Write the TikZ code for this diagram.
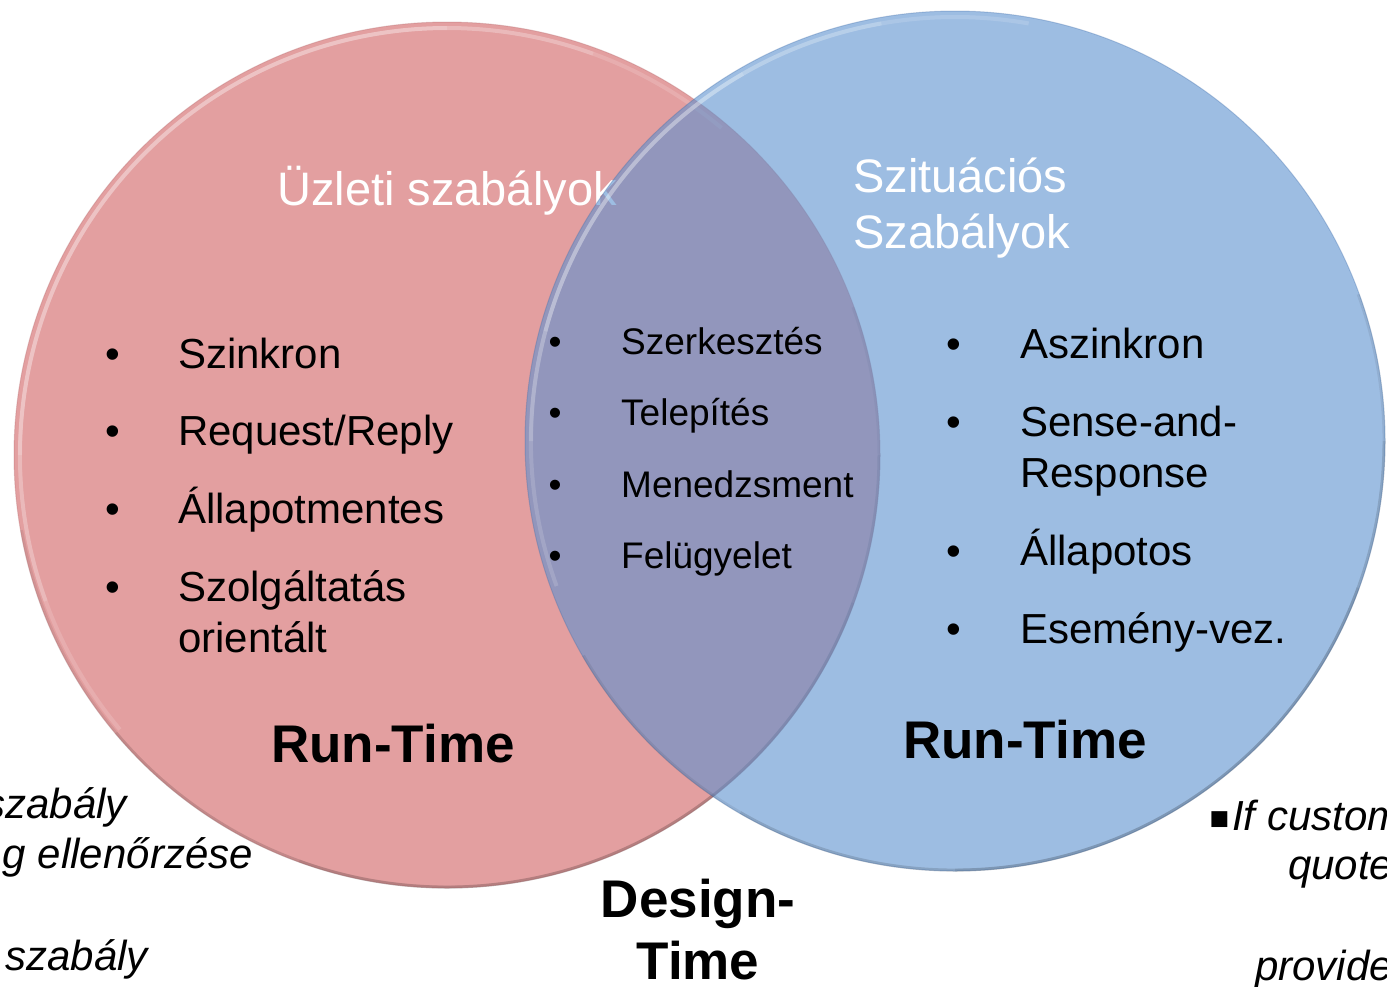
\documentclass[tikz,border=0pt]{standalone}
\usepackage{fontspec}
\setmainfont{Liberation Sans}
\definecolor{bizred}{RGB}{227,159,160}
\definecolor{sitblue}{RGB}{92,145,207}
\definecolor{redrim}{RGB}{185,115,118}
\definecolor{bluerim}{RGB}{60,105,165}

\begin{document}
\begin{tikzpicture}[x=1pt,y=-1pt,
  setdisc/.style={circle, inner sep=0pt, minimum size=#1},
  item/.style={anchor=base west, inner sep=0pt, font=\fontsize{42}{50}\selectfont},
  bul/.style={anchor=base, inner sep=0pt, font=\fontsize{42}{50}\selectfont},
  citem/.style={anchor=base west, inner sep=0pt, font=\fontsize{37}{44}\selectfont},
  cbul/.style={anchor=base, inner sep=0pt, font=\fontsize{37}{44}\selectfont},
  ttl/.style={anchor=base west, inner sep=0pt, text=white, font=\fontsize{47}{56}\selectfont},
  phase/.style={anchor=base, inner sep=0pt, font=\fontsize{53}{63}\selectfont\bfseries},
  side/.style={inner sep=0pt, font=\fontsize{42}{50}\selectfont\itshape},
  glint/.style={draw=white, line width=4pt, draw opacity=0.15},
  shade/.style={draw=black, line width=3pt, draw opacity=0.07},
]
\useasboundingbox (0,0) rectangle (1387,986);
\begin{scope}
\clip (0,0) rectangle (1387,986);

% business rules set
\node[setdisc=866pt, fill=bizred, draw=redrim, draw opacity=0.35, line width=1pt] (bizset) at (447,455) {};
\foreach \a/\b in {90/180,70/200,50/220}
  \draw[glint] (bizset.center) ++(\b:427pt) arc[start angle=\b, end angle=\a, radius=427pt];
\foreach \a/\b in {-170/20,-140/0,-110/-20}
  \draw[shade] (bizset.center) ++(\a:432pt) arc[start angle=\a, end angle=\b, radius=432pt];
\node[ttl] (biztitle) at (277,205) {Üzleti szabályok};

% situational rules set, translucent over the first one
\node[setdisc=860pt, fill=sitblue, fill opacity=0.6, draw=bluerim, draw opacity=0.3, line width=1pt] (sitset) at (955,441) {};
\foreach \a/\b in {80/200,100/180,120/165}
  \draw[glint] (sitset.center) ++(\b:424pt) arc[start angle=\b, end angle=\a, radius=424pt];
\foreach \a/\b in {-150/20,-120/0,-90/-20}
  \draw[shade] (sitset.center) ++(\a:429pt) arc[start angle=\a, end angle=\b, radius=429pt];
\node[ttl] (sittitle1) at (853,192) {Szituációs};
\node[ttl] (sittitle2) at (853,248) {Szabályok};

% left list
\node[bul]  (lb1) at (113,368) {•};
\node[item] (l1)  at (178,368) {Szinkron};
\node[bul]  (lb2) at (113,445) {•};
\node[item] (l2)  at (178,445) {Request/Reply};
\node[bul]  (lb3) at (113,523) {•};
\node[item] (l3)  at (178,523) {Állapotmentes};
\node[bul]  (lb4) at (113,601) {•};
\node[item] (l4a) at (178,601) {Szolgáltatás};
\node[item] (l4b) at (178,652) {orientált};

% shared list
\node[cbul]  (cb1) at (555,354) {•};
\node[citem] (c1)  at (621,354) {Szerkesztés};
\node[cbul]  (cb2) at (555,425) {•};
\node[citem] (c2)  at (621,425) {Telepítés};
\node[cbul]  (cb3) at (555,497) {•};
\node[citem] (c3)  at (621,497) {Menedzsment};
\node[cbul]  (cb4) at (555,568) {•};
\node[citem] (c4)  at (621,568) {Felügyelet};

% right list
\node[bul]  (rb1) at (954,358) {•};
\node[item] (r1)  at (1020,358) {Aszinkron};
\node[bul]  (rb2) at (954,436) {•};
\node[item] (r2a) at (1020,436) {Sense-and-};
\node[item] (r2b) at (1020,487) {Response};
\node[bul]  (rb3) at (954,565) {•};
\node[item] (r3)  at (1020,565) {Állapotos};
\node[bul]  (rb4) at (954,643) {•};
\node[item] (r4)  at (1020,643) {Esemény-vez.};

% phase labels
\node[phase] (rtleft)  at (393,762) {Run-Time};
\node[phase] (rtright) at (1025,758) {Run-Time};
\node[phase] (dt1) at (698,917) {Design-};
\node[phase] (dt2) at (698,979) {Time};

% side notes running past the edges
\node[side, anchor=base east] (sl1) at (127,818) {szabály};
\node[side, anchor=base east] (sl2) at (253,868) {g ellenőrzése};
\node[side, anchor=base east] (sl3) at (148,970) {szabály};
\node[inner sep=0pt, anchor=center, font=\fontsize{64}{70}\selectfont] (sqb) at (1219.5,826) {▪};
\node[side, anchor=base west] (sr1) at (1232,830) {If custom};
\node[side, anchor=base west] (sr2) at (1288,879) {quote};
\node[side, anchor=base west] (sr3) at (1255,980) {provide};
\end{scope}
\end{tikzpicture}
\end{document}
